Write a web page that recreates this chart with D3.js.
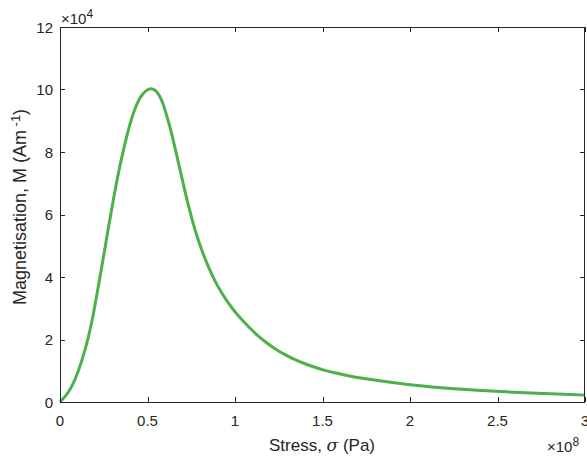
<!DOCTYPE html>
<html><head><meta charset="utf-8">
<script src="https://cdn.jsdelivr.net/npm/d3@7"></script>
<style>
html,body{margin:0;padding:0;background:#fff;}
text{font-family:"Liberation Sans",Arial,Helvetica,sans-serif;fill:#262626;}
</style></head>
<body><svg id="c" width="587" height="460"></svg>
<script>
// Stress in units of 1e8 Pa, magnetisation in units of 1e4 A/m
const stress = [0,0.048,0.086,0.124,0.162,0.19,0.219,0.248,0.276,0.305,0.333,0.362,0.39,0.419,0.457,0.495,0.531,0.570,0.598,0.627,0.655,0.684,0.712,0.741,0.770,0.808,0.846,0.884,0.922,0.970,1.0,1.057,1.114,1.171,1.229,1.286,1.343,1.4,1.457,1.514,1.571,1.619,1.714,2.0,2.286,2.5,3.0];
const magnet = [0,0.28,0.70,1.29,2.04,2.78,3.70,4.62,5.56,6.48,7.32,8.06,8.70,9.27,9.77,10.0,10.06,9.83,9.40,8.84,8.19,7.48,6.78,6.12,5.52,4.88,4.34,3.88,3.50,3.10,2.88,2.52,2.20,1.93,1.70,1.51,1.35,1.22,1.11,1.01,0.93,0.87,0.76,0.54,0.41,0.33,0.22];
const xTicks = [0,0.5,1,1.5,2,2.5,3];
const xTickLabels = ["0","0.5","1","1.5","2","2.5","3"];
const yTicks = [0,2,4,6,8,10,12];
const yTickLabels = ["0","2","4","6","8","10","12"];

const svg = d3.select("#c");
const L=60, R=585, T=27, B=402;
const x = d3.scaleLinear().domain([0,3]).range([L,R]);
const y = d3.scaleLinear().domain([0,12]).range([B,T]);
const axisCol="#262626";
const tickFs=15, labFs=17;

// line
const line = d3.line().x((d,i)=>x(stress[i])).y((d,i)=>y(magnet[i])).curve(d3.curveBasis);
svg.append("path").datum(magnet).attr("d",line).attr("fill","none")
  .attr("stroke","#4DB04A").attr("stroke-width",3).attr("stroke-linejoin","round");

// box
svg.append("rect").attr("x",L+0.5).attr("y",T+0.5).attr("width",R-L-1).attr("height",B-T)
  .attr("fill","none").attr("stroke",axisCol).attr("stroke-width",1);

const tl=5;
xTicks.forEach((t,i)=>{
  const px=Math.round(x(t))+0.5;
  svg.append("line").attr("x1",px).attr("x2",px).attr("y1",B).attr("y2",B-tl).attr("stroke",axisCol);
  svg.append("line").attr("x1",px).attr("x2",px).attr("y1",T).attr("y2",T+tl).attr("stroke",axisCol);
  svg.append("text").attr("x",x(t)).attr("y",B+24).attr("text-anchor","middle")
    .attr("font-size",tickFs).text(xTickLabels[i]);
});
yTicks.forEach((t,i)=>{
  const py=Math.round(y(t))+0.5;
  svg.append("line").attr("x1",L).attr("x2",L+tl).attr("y1",py).attr("y2",py).attr("stroke",axisCol);
  svg.append("line").attr("x1",R).attr("x2",R-tl).attr("y1",py).attr("y2",py).attr("stroke",axisCol);
  svg.append("text").attr("x",L-7).attr("y",y(t)+5.5).attr("text-anchor","end")
    .attr("font-size",tickFs).text(yTickLabels[i]);
});

// exponents
const e1=svg.append("text").attr("x",61).attr("y",24).attr("font-size",tickFs);
e1.append("tspan").text("\u00D710");
e1.append("tspan").attr("dy",-6).attr("font-size",12).text("4");
const e2=svg.append("text").attr("x",547).attr("y",452).attr("font-size",tickFs);
e2.append("tspan").text("\u00D710");
e2.append("tspan").attr("dy",-6).attr("font-size",12).text("8");

// x label
const xl=svg.append("text").attr("x",322).attr("y",451).attr("text-anchor","middle").attr("font-size",labFs);
xl.append("tspan").text("Stress, ");
xl.append("tspan").attr("font-family","'DejaVu Serif',serif").attr("font-style","italic").text("\u03C3");
xl.append("tspan").text(" (Pa)");

// y label
const yl=svg.append("text").attr("transform","translate(26,207) rotate(-90)").attr("text-anchor","middle").attr("font-size",18);
yl.append("tspan").text("Magnetisation, M (Am");
yl.append("tspan").attr("dy",-6).attr("font-size",13).text(" -1");
yl.append("tspan").attr("dy",6).text(")");
</script></body></html>
